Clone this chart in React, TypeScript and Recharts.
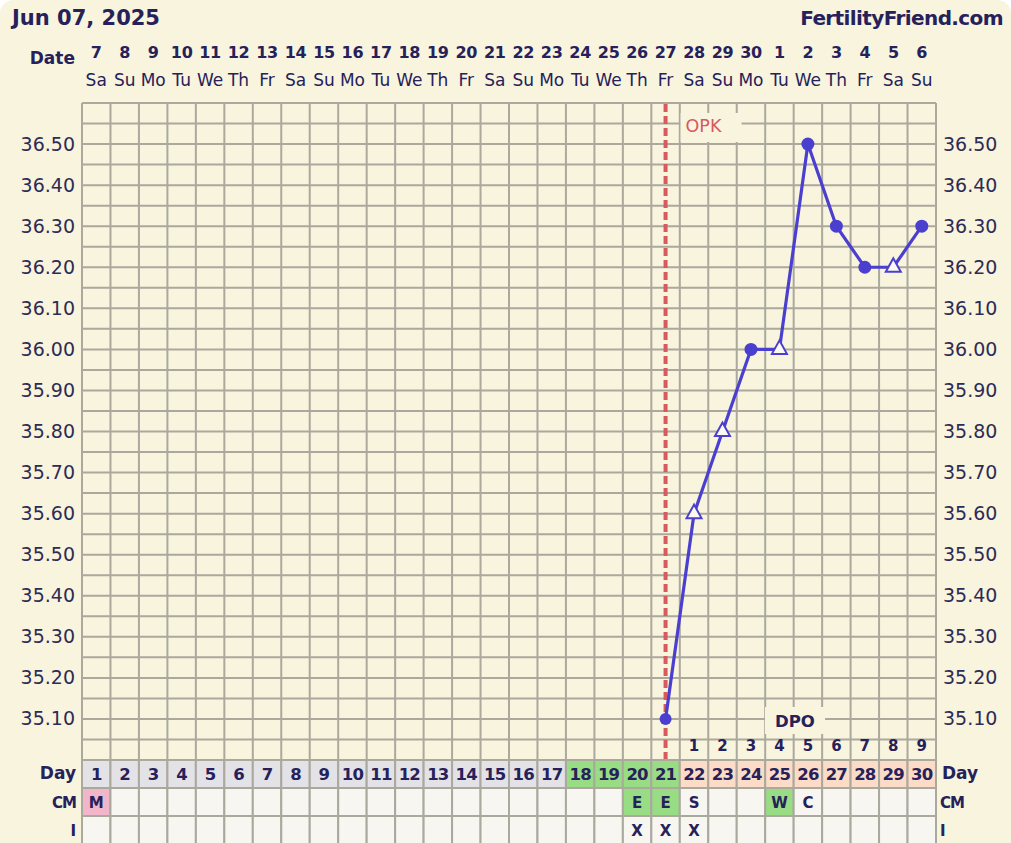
import React from 'react';
import { ComposedChart, Line, XAxis, YAxis, CartesianGrid, ReferenceLine, Customized } from 'recharts';

const title = 'Jun 07, 2025';
const site = 'FertilityFriend.com';
const days = [1, 2, 3, 4, 5, 6, 7, 8, 9, 10, 11, 12, 13, 14, 15, 16, 17, 18, 19, 20, 21, 22, 23, 24, 25, 26, 27, 28, 29, 30];
const dates = ['7', '8', '9', '10', '11', '12', '13', '14', '15', '16', '17', '18', '19', '20', '21', '22', '23', '24', '25', '26', '27', '28', '29', '30', '1', '2', '3', '4', '5', '6'];
const weekdays = ['Sa', 'Su', 'Mo', 'Tu', 'We', 'Th', 'Fr', 'Sa', 'Su', 'Mo', 'Tu', 'We', 'Th', 'Fr', 'Sa', 'Su', 'Mo', 'Tu', 'We', 'Th', 'Fr', 'Sa', 'Su', 'Mo', 'Tu', 'We', 'Th', 'Fr', 'Sa', 'Su'];
const temps: (number | null)[] = [null, null, null, null, null, null, null, null, null, null, null, null, null, null, null, null, null, null, null, null, 35.1, 35.6, 35.8, 36.0, 36.0, 36.5, 36.3, 36.2, 36.2, 36.3];
const markers = ['', '', '', '', '', '', '', '', '', '', '', '', '', '', '', '', '', '', '', '', 'circle', 'triangle', 'triangle', 'circle', 'triangle', 'circle', 'circle', 'circle', 'triangle', 'circle'];
const phases = ['pre', 'pre', 'pre', 'pre', 'pre', 'pre', 'pre', 'pre', 'pre', 'pre', 'pre', 'pre', 'pre', 'pre', 'pre', 'pre', 'pre', 'fertile', 'fertile', 'fertile', 'fertile', 'luteal', 'luteal', 'luteal', 'luteal', 'luteal', 'luteal', 'luteal', 'luteal', 'luteal'];
const cm = ['M', '', '', '', '', '', '', '', '', '', '', '', '', '', '', '', '', '', '', 'E', 'E', 'S', '', '', 'W', 'C', '', '', '', ''];
const intercourse = ['', '', '', '', '', '', '', '', '', '', '', '', '', '', '', '', '', '', '', 'X', 'X', 'X', '', '', '', '', '', '', '', ''];
const dpo = ['', '', '', '', '', '', '', '', '', '', '', '', '', '', '', '', '', '', '', '', '', '1', '2', '3', '4', '5', '6', '7', '8', '9'];
const yLabels = ['35.10', '35.20', '35.30', '35.40', '35.50', '35.60', '35.70', '35.80', '35.90', '36.00', '36.10', '36.20', '36.30', '36.40', '36.50'];
const opkDay = 21;
const yMin = 35.0;
const yMax = 36.6;

const data = days.map((d, i) => ({ day: d, temp: temps[i], marker: markers[i] }));
const gridTicks: number[] = [];
for (let k = 0; k <= Math.round((yMax - yMin) / 0.05); k++) gridTicks.push(+(yMin + k * 0.05).toFixed(2));
const boundaries = [0.5, ...days.map((d) => d + 0.5)];

const W = 1011;
const H = 843;
const COL_W = 854 / 30;
const FONT = 'DejaVu Sans, Verdana, sans-serif';
const NAVY = '#26215a';
const GRID = '#aba89e';
const BG = '#f8f4de';
const LINE = '#4b3fcf';
const RED = '#d65a5e';
const phaseFill: Record<string, string> = { pre: '#e3e2e6', fertile: '#98dc84', luteal: '#fcdcc6' };
const cmFill: Record<string, string> = { M: '#f1b6c9', E: '#98dc84', W: '#98dc84' };
const CELL_BG = '#f7f6f0';
const ROW_DAY = 760;
const ROW_CM = 788;
const ROW_I = 816;

const TopTick = (props: any) => {
  const { x, payload } = props;
  const i = days.indexOf(payload.value);
  if (i < 0) return null;
  return (
    <g>
      <text x={x} y={58} textAnchor="middle" fontFamily={FONT} fontWeight="bold" fontSize={16} letterSpacing={-0.3} fill={NAVY}>{dates[i]}</text>
      <text x={x} y={86} textAnchor="middle" fontFamily={FONT} fontSize={17} fill={NAVY}>{weekdays[i]}</text>
    </g>
  );
};

const BottomTick = (props: any) => {
  const { x, payload } = props;
  const d = payload.value + 0.5;
  const i = days.indexOf(d);
  if (i < 0) return null;
  const cx = x + COL_W / 2;
  return (
    <g>
      <rect x={x} y={ROW_DAY} width={COL_W} height={ROW_CM - ROW_DAY} fill={phaseFill[phases[i]]} stroke={GRID} strokeWidth={2} />
      <rect x={x} y={ROW_CM} width={COL_W} height={ROW_I - ROW_CM} fill={cmFill[cm[i]] || CELL_BG} stroke={GRID} strokeWidth={2} />
      <rect x={x} y={ROW_I} width={COL_W} height={40} fill={CELL_BG} stroke={GRID} strokeWidth={2} />
      <text x={cx} y={780} textAnchor="middle" fontFamily={FONT} fontWeight="bold" fontSize={16.5} letterSpacing={-0.8} fill={NAVY}>{String(d)}</text>
      {cm[i] && <text x={cx} y={808} textAnchor="middle" fontFamily={FONT} fontWeight="bold" fontSize={15} fill={NAVY}>{cm[i]}</text>}
      {intercourse[i] && <text x={cx} y={836} textAnchor="middle" fontFamily={FONT} fontWeight="bold" fontSize={15} fill={NAVY}>{intercourse[i]}</text>}
      {dpo[i] && <text x={cx} y={751} textAnchor="middle" fontFamily={FONT} fontWeight="bold" fontSize={15} fill={NAVY}>{dpo[i]}</text>}
    </g>
  );
};

const YTick = (props: any) => {
  const { x, y, payload, orientation } = props;
  const label = Number(payload.value).toFixed(2);
  if (!yLabels.includes(label)) return null;
  const right = orientation === 'right';
  return (
    <text x={right ? x - 1 : x + 1} y={y + 6.5} textAnchor={right ? 'start' : 'end'} fontFamily={FONT} fontSize={19} fill="#2e2b55">{label}</text>
  );
};

const Dot = (props: any) => {
  const { cx, cy, payload } = props;
  if (payload.temp == null || cx == null || cy == null) return null;
  if (payload.marker === 'triangle') {
    return <polygon key={payload.day} points={`${cx},${cy - 9} ${cx - 7.5},${cy + 4.5} ${cx + 7.5},${cy + 4.5}`} fill="#fbf9f0" stroke={LINE} strokeWidth={2} />;
  }
  return <circle key={payload.day} cx={cx} cy={cy} r={payload.day === opkDay ? 6 : 6.5} fill={LINE} />;
};

const Extras = () => (
  <g>
    <text x={12} y={25} fontFamily={FONT} fontWeight="bold" fontSize={21} fill={NAVY}>{title}</text>
    <text x={1003} y={25} textAnchor="end" fontFamily={FONT} fontWeight="bold" fontSize={20} letterSpacing={-0.6} fill={NAVY}>{site}</text>
    <text x={75} y={64} textAnchor="end" fontFamily={FONT} fontWeight="bold" fontSize={17} fill={NAVY}>Date</text>
    <text x={76} y={779} textAnchor="end" fontFamily={FONT} fontWeight="bold" fontSize={17} fill={NAVY}>Day</text>
    <text x={76} y={808} textAnchor="end" fontFamily={FONT} fontWeight="bold" fontSize={15} letterSpacing={-1} fill={NAVY}>CM</text>
    <text x={76} y={836} textAnchor="end" fontFamily={FONT} fontWeight="bold" fontSize={15} fill={NAVY}>I</text>
    <text x={942} y={779} fontFamily={FONT} fontWeight="bold" fontSize={17} fill={NAVY}>Day</text>
    <text x={940} y={808} fontFamily={FONT} fontWeight="bold" fontSize={15} letterSpacing={-1} fill={NAVY}>CM</text>
    <text x={940} y={836} fontFamily={FONT} fontWeight="bold" fontSize={15} fill={NAVY}>I</text>
    <rect x={765} y={707} width={60} height={27} fill={BG} />
    <text x={795} y={727} textAnchor="middle" fontFamily={FONT} fontWeight="bold" fontSize={16.5} fill={NAVY}>DPO</text>
  </g>
);

const OpkLabel = (props: any) => {
  const { viewBox } = props;
  const x = viewBox.x;
  return (
    <g>
      <rect x={x + 15} y={113} width={61} height={29} fill={BG} />
      <text x={x + 20} y={132} fontFamily={FONT} fontSize={17.5} fill={RED}>OPK</text>
    </g>
  );
};

export default function App() {
  return (
    <div style={{ position: 'absolute', left: 0, top: 0, width: W, height: H, background: BG, borderRadius: '14px 14px 0 0', overflow: 'hidden' }}>
      <ComposedChart width={W} height={H} data={data} margin={{ top: 0, right: 0, bottom: 0, left: 0 }}>
        <XAxis xAxisId="top" orientation="top" type="number" dataKey="day" domain={[0.5, 30.5]} ticks={days} interval={0} height={103} axisLine={false} tickLine={false} tick={<TopTick />} />
        <XAxis xAxisId={0} orientation="bottom" type="number" dataKey="day" domain={[0.5, 30.5]} ticks={boundaries} interval={0} height={83} axisLine={false} tickLine={false} tick={<BottomTick />} />
        <YAxis yAxisId={0} orientation="left" type="number" domain={[yMin, yMax]} ticks={gridTicks} interval={0} width={82} axisLine={false} tickLine={false} tick={<YTick orientation="left" />} allowDataOverflow />
        <YAxis yAxisId="right" orientation="right" type="number" domain={[yMin, yMax]} ticks={gridTicks} interval={0} width={75} axisLine={false} tickLine={false} tick={<YTick orientation="right" />} allowDataOverflow />
        <CartesianGrid xAxisId={0} yAxisId={0} stroke={GRID} strokeWidth={2} strokeOpacity={1} />
        <Customized component={Extras} />
        <ReferenceLine xAxisId={0} yAxisId={0} x={opkDay} stroke={RED} strokeWidth={4} strokeDasharray="8 4" label={<OpkLabel />} />
        <Line xAxisId={0} yAxisId={0} type="linear" dataKey="temp" stroke={LINE} strokeWidth={3.2} dot={<Dot />} activeDot={false} isAnimationActive={false} connectNulls={false} />
      </ComposedChart>
    </div>
  );
}
